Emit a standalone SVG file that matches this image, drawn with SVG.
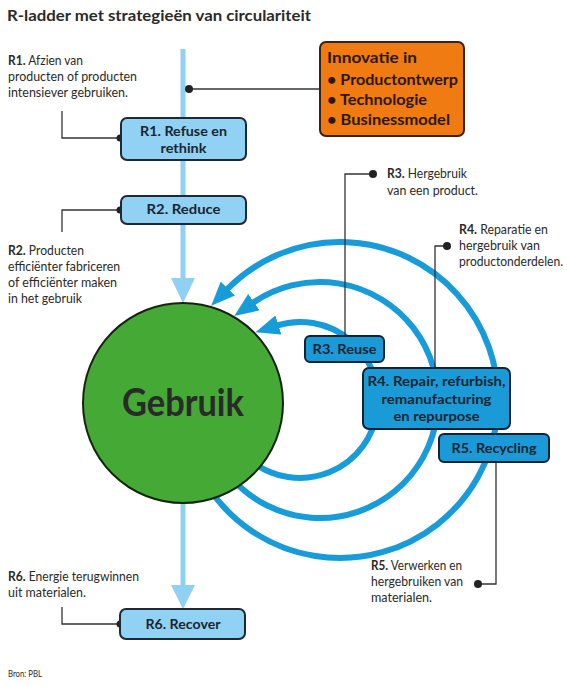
<svg xmlns="http://www.w3.org/2000/svg" width="567" height="686" viewBox="0 0 567 686">
<style>
text{font-family:Lato,"Open Sans","Liberation Sans",sans-serif;fill:#2a2a2a}
.t{font-size:12.5px}
.b{font-weight:700}
.bx{font-size:14px;font-weight:700;fill:#1a2530;text-anchor:middle}
.lb{fill:#90d1f4;stroke:#1b2a36;stroke-width:2}
.mb{fill:#1b9ad8;stroke:#0f2134;stroke-width:2}
.con{fill:none;stroke:#333;stroke-width:1.3}
.dot{fill:#222}
.arc{fill:none;stroke:#179bd9;stroke-width:6}
.flow{stroke:#8fd0f3;stroke-width:5;fill:none}
.ora{font-size:16px;font-weight:700;fill:#2b1809}
</style>
<defs>
<marker id="ah" markerUnits="userSpaceOnUse" markerWidth="24" markerHeight="20" viewBox="0 0 24 20" refX="2" refY="10" orient="auto">
<path d="M0,0 L24,10 L0,20 z" fill="#179bd9"/>
</marker>
</defs>
<rect width="567" height="686" fill="#fff"/>
<text x="7" y="21" class="b" font-size="16" textLength="304" lengthAdjust="spacingAndGlyphs">R-ladder met strategieën van circulariteit</text>

<g id="connectors">
<path class="flow" d="M183,49 V282"/>
<polygon points="171,278 195,278 183,303" fill="#8fd0f3"/>
<path class="flow" d="M183,500 V588"/>
<polygon points="171,585 195,585 183,609" fill="#8fd0f3"/>
<path class="arc" d="M209,488.4 A158,158 0 1 0 226.5,290" marker-end="url(#ah)"/>
<path class="arc" d="M232.3,479 A118,118 0 1 0 252.3,303.3" marker-end="url(#ah)"/>
<path class="arc" d="M254.2,463.1 A78,78 0 1 0 276.5,325.6" marker-end="url(#ah)"/>
<path class="con" d="M189,89 H320"/>
<circle class="dot" cx="189" cy="89" r="4"/>
<path class="con" d="M62,111 V138 H121"/>
<circle class="dot" cx="120" cy="138" r="3.5"/>
<path class="con" d="M121,210 H62 V232"/>
<circle class="dot" cx="120" cy="210" r="3.5"/>
<path class="con" d="M62,607 V624 H120"/>
<circle class="dot" cx="120" cy="624" r="3.5"/>
<path class="con" d="M345,337 V174 H373"/>
<circle class="dot" cx="373" cy="174" r="4"/>
<path class="con" d="M435,369 V246 H447"/>
<circle class="dot" cx="447" cy="246" r="4"/>
<path class="con" d="M496,461 V584 H478"/>
<circle class="dot" cx="478" cy="584" r="4"/>
</g>

<g id="gebruik">
<circle cx="183" cy="403" r="100" fill="#45a935" stroke="#16240f" stroke-width="2"/>
<text x="183" y="416" font-size="38" class="b" text-anchor="middle" fill="#1c2418" textLength="122" lengthAdjust="spacingAndGlyphs">Gebruik</text>
</g>

<g id="innovatie">
<rect x="320" y="42" width="144" height="94" rx="6" fill="#ef7b12" stroke="#3a2110" stroke-width="2"/>
<text x="327" y="63" class="ora" textLength="90" lengthAdjust="spacingAndGlyphs">Innovatie in</text>
<text x="327" y="85" class="ora" textLength="131" lengthAdjust="spacingAndGlyphs">• Productontwerp</text>
<text x="327" y="105" class="ora" textLength="100" lengthAdjust="spacingAndGlyphs">• Technologie</text>
<text x="327" y="125" class="ora" textLength="123" lengthAdjust="spacingAndGlyphs">• Businessmodel</text>
</g>

<g id="r1">
<rect class="lb" x="121" y="118" width="125" height="42" rx="6"/>
<text x="183.5" y="136" class="bx" textLength="87" lengthAdjust="spacingAndGlyphs">R1. Refuse en</text>
<text x="183.5" y="153" class="bx" textLength="46" lengthAdjust="spacingAndGlyphs">rethink</text>
</g>
<g id="r1-note">
<text x="8" y="65" class="t" textLength="75" lengthAdjust="spacingAndGlyphs"><tspan class="b">R1.</tspan> Afzien van</text>
<text x="8" y="81" class="t" textLength="129" lengthAdjust="spacingAndGlyphs">producten of producten</text>
<text x="8" y="97" class="t" textLength="120" lengthAdjust="spacingAndGlyphs">intensiever gebruiken.</text>
</g>

<g id="r2">
<rect class="lb" x="121" y="196" width="125" height="28" rx="6"/>
<text x="183.5" y="214" class="bx" textLength="74" lengthAdjust="spacingAndGlyphs">R2. Reduce</text>
</g>
<g id="r2-note">
<text x="8" y="255" class="t" textLength="76" lengthAdjust="spacingAndGlyphs"><tspan class="b">R2.</tspan> Producten</text>
<text x="8" y="271" class="t" textLength="112" lengthAdjust="spacingAndGlyphs">efficiënter fabriceren</text>
<text x="8" y="287" class="t" textLength="109" lengthAdjust="spacingAndGlyphs">of efficiënter maken</text>
<text x="8" y="303" class="t" textLength="74" lengthAdjust="spacingAndGlyphs">in het gebruik</text>
</g>

<g id="r3">
<rect class="mb" x="305" y="336" width="79" height="26" rx="5"/>
<text x="344.5" y="354" class="bx" textLength="64" lengthAdjust="spacingAndGlyphs">R3. Reuse</text>
</g>
<g id="r3-note">
<text x="387" y="178" class="t" textLength="80" lengthAdjust="spacingAndGlyphs"><tspan class="b">R3.</tspan> Hergebruik</text>
<text x="387" y="195" class="t" textLength="91" lengthAdjust="spacingAndGlyphs">van een product.</text>
</g>

<g id="r4">
<rect class="mb" x="363" y="368" width="147" height="61" rx="6"/>
<text x="436.5" y="386" class="bx" textLength="138" lengthAdjust="spacingAndGlyphs">R4. Repair, refurbish,</text>
<text x="436.5" y="404" class="bx" textLength="110" lengthAdjust="spacingAndGlyphs">remanufacturing</text>
<text x="436.5" y="421" class="bx" textLength="86" lengthAdjust="spacingAndGlyphs">en repurpose</text>
</g>
<g id="r4-note">
<text x="459" y="234" class="t" textLength="89" lengthAdjust="spacingAndGlyphs"><tspan class="b">R4.</tspan> Reparatie en</text>
<text x="459" y="250" class="t" textLength="81" lengthAdjust="spacingAndGlyphs">hergebruik van</text>
<text x="459" y="266" class="t" textLength="104" lengthAdjust="spacingAndGlyphs">productonderdelen.</text>
</g>

<g id="r5">
<rect class="mb" x="439" y="434" width="110" height="28" rx="5"/>
<text x="494" y="453" class="bx" textLength="85" lengthAdjust="spacingAndGlyphs">R5. Recycling</text>
</g>
<g id="r5-note">
<text x="371" y="570" class="t" textLength="91" lengthAdjust="spacingAndGlyphs"><tspan class="b">R5.</tspan> Verwerken en</text>
<text x="371" y="586" class="t" textLength="92" lengthAdjust="spacingAndGlyphs">hergebruiken van</text>
<text x="371" y="602" class="t" textLength="61" lengthAdjust="spacingAndGlyphs">materialen.</text>
</g>

<g id="r6">
<rect class="lb" x="120" y="609" width="125" height="30" rx="6"/>
<text x="183" y="629" class="bx" textLength="75" lengthAdjust="spacingAndGlyphs">R6. Recover</text>
</g>
<g id="r6-note">
<text x="8" y="581" class="t" textLength="131" lengthAdjust="spacingAndGlyphs"><tspan class="b">R6.</tspan> Energie terugwinnen</text>
<text x="8" y="597" class="t" textLength="78" lengthAdjust="spacingAndGlyphs">uit materialen.</text>
</g>

<text x="8" y="677" font-size="10" textLength="34" lengthAdjust="spacingAndGlyphs">Bron: PBL</text>
</svg>
